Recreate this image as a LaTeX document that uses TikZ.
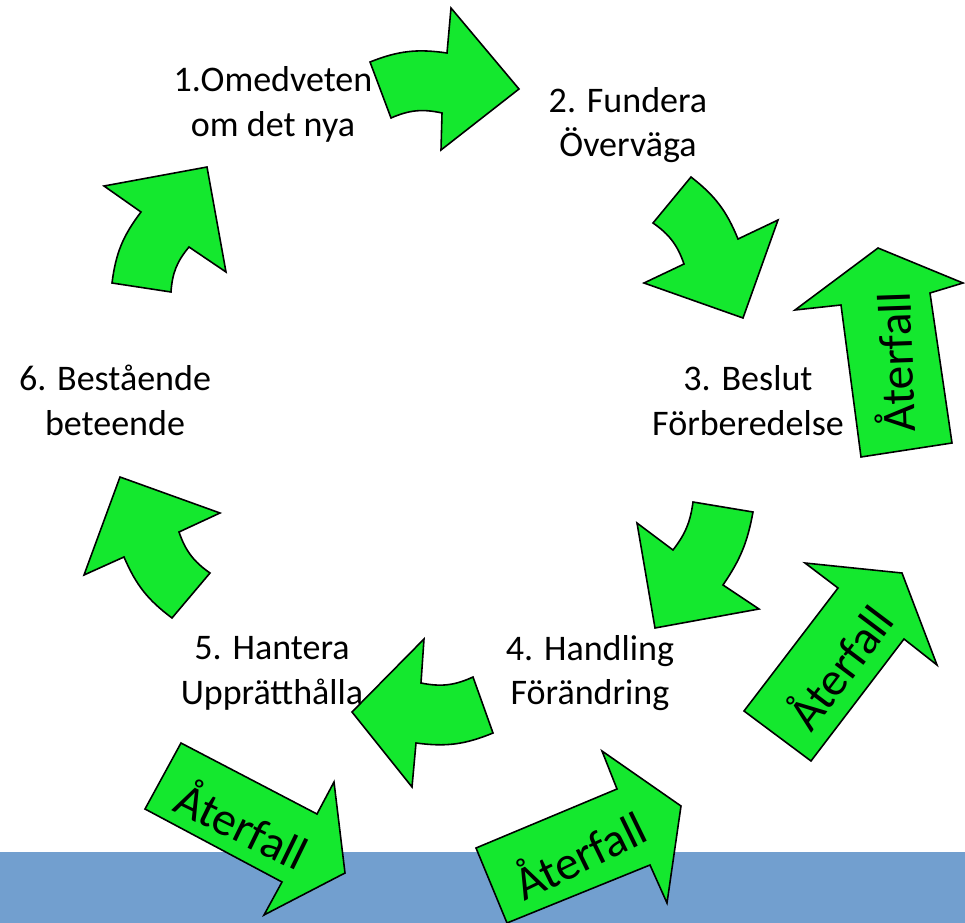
\documentclass[tikz,border=0pt]{standalone}
\usepackage{fontspec}
\setmainfont{Carlito}
\usepackage{tikz}
\definecolor{arrowgreen}{RGB}{20,232,46}
\definecolor{seablue}{RGB}{114,159,207}
\tikzset{stage node/.style={align=center,inner sep=0pt,font=\fontsize{20.5pt}{25.5pt}\selectfont},
  cycle arrow/.style={fill=arrowgreen,draw=black,line width=0.9pt,line join=miter},
  relapse text/.style={inner sep=0pt,font=\fontsize{27pt}{30pt}\selectfont}}

\begin{document}
\begin{tikzpicture}[x=0.02cm,y=-0.02cm]
            \useasboundingbox (0,0) rectangle (965,923);
            \fill[seablue] (0,852) rectangle (965,923);

            \node[stage node] (S1) at (273,104) {1.Omedveten\\om det nya};

            % curved arrows round the cycle
            \draw[cycle arrow] (370,62) to[bend left=15] (447,53) -- (451,8) -- (519,89) -- (441,150) -- (442,113) to[bend right=18] (391,118) -- cycle;
            \draw[cycle arrow] (691,177) -- (653,223) to[bend left=18] (684,264) -- (644,283) -- (743,318) -- (778,220) -- (738,239) to[bend right=15] (691,177) -- cycle;
            \draw[cycle arrow] (693,502) -- (753,512) to[bend left=12] (723,585) -- (759,609) -- (655,628) -- (637,523) -- (673,550) to[bend right=15] (693,502) -- cycle;
            \draw[cycle arrow] (473,677) -- (493,733) to[bend left=15] (416,743) -- (412,787) -- (352,712) -- (424,639) -- (421,683) to[bend right=18] (473,677) -- cycle;
            \draw[cycle arrow] (172,618) -- (210,573) to[bend left=18] (179,532) -- (220,513) -- (120,477) -- (84,575) -- (124,557) to[bend right=15] (172,618) -- cycle;
            \draw[cycle arrow] (112,283) -- (171,292) to[bend left=18] (189,247) -- (226,272) -- (207,167) -- (104,186) -- (141,212) to[bend right=15] (112,283) -- cycle;

            % relapse arrows
            \draw[cycle arrow] (878,248) -- (963,283) -- (930,293) -- (952,443) -- (861,457) -- (841,305) -- (795,310) -- cycle;
            \draw[cycle arrow] (805,563) -- (902,573) -- (937,665) -- (904,639) -- (811,761) -- (744,711) -- (838,588) -- cycle;
            \draw[cycle arrow] (181,743) -- (317,814) -- (334,782) -- (345,873) -- (264,915) -- (282,882) -- (145,809) -- cycle;
            \draw[cycle arrow] (476,848) -- (617,789) -- (602,751) -- (681,806) -- (667,903) -- (650,865) -- (507,923) -- cycle;

            \node[relapse text,rotate=92] (R1) at (893,362) {Återfall};
            \node[relapse text,rotate=53] (R2) at (838,666) {Återfall};
            \node[relapse text,rotate=-26] (R3) at (243,823) {Återfall};
            \node[relapse text,rotate=26] (R4) at (579,853) {Återfall};

            \node[stage node] (S2) at (628,125) {2. Fundera\\Överväga};
            \node[stage node] (S3) at (748,401) {3. Beslut\\Förberedelse};
            \node[stage node] (S4) at (590,673) {4. Handling\\Förändring};
            \node[stage node] (S5) at (272,673) {5. Hantera\\Upprätthålla};
            \node[stage node] (S6) at (115,400) {6. Bestående\\beteende};
        \end{tikzpicture}
\end{document}
